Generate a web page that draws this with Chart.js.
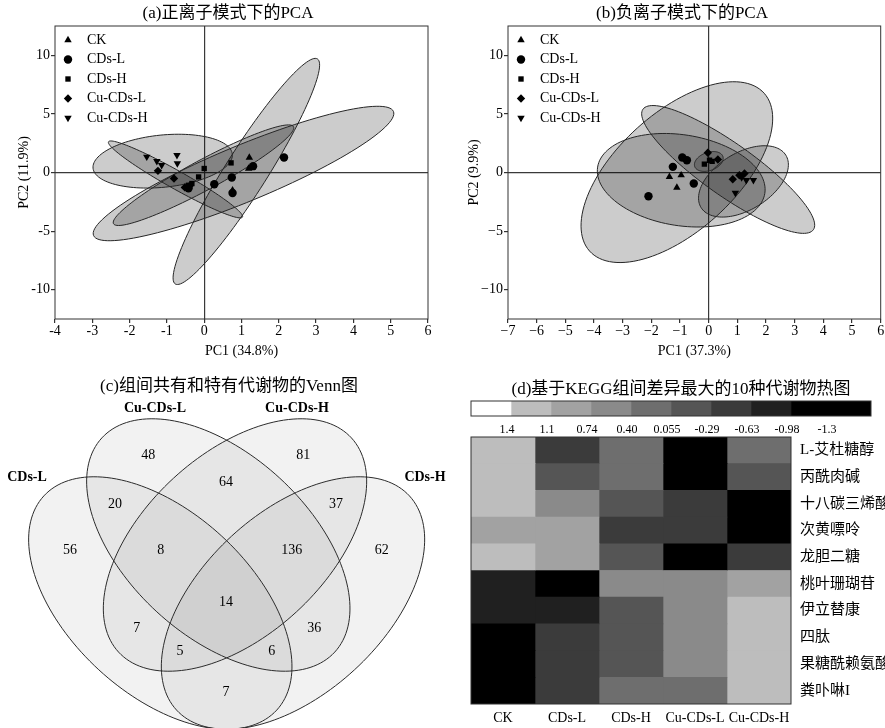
<!DOCTYPE html>
<html>
<head>
<meta charset="utf-8">
<script src="https://cdn.jsdelivr.net/npm/chart.js@4.4.0/dist/chart.umd.min.js"></script>
<style>
  body { margin: 0; background: #fff; width: 885px; height: 728px; position: relative; overflow: hidden; }
  canvas { position: absolute; }
</style>
</head>
<body>
<canvas id="cA" width="442" height="362" style="left:0;top:0"></canvas>
<canvas id="cB" width="443" height="362" style="left:442px;top:0"></canvas>
<canvas id="cC" width="460" height="358" style="left:0;top:370px"></canvas>
<canvas id="cK" width="425" height="65" style="left:460px;top:375px"></canvas>
<canvas id="cH" width="425" height="296" style="left:460px;top:432px"></canvas>
<script>
/* ---------- data ---------- */
const groupNames = ['CK', 'CDs-L', 'CDs-H', 'Cu-CDs-L', 'Cu-CDs-H'];

// (a) PCA scores, positive ion mode  [PC1, PC2]
const posCK     = [[1.21, 1.28], [1.19, 0.34], [0.76, -1.52]];
const posCDsL   = [[2.14, 1.28], [1.31, 0.54], [0.74, -0.43], [0.27, -1.0], [0.76, -1.75], [-0.42, -1.35]];
const posCDsH   = [[0.72, 0.82], [0.0, 0.34], [-0.15, -0.38], [-0.33, -0.94], [-0.42, -1.09]];
const posCuCDsL = [[-1.24, 0.14], [-0.81, -0.51], [-0.52, -1.27], [-0.4, -1.2]];
const posCuCDsH = [[-1.54, 1.34], [-1.27, 0.97], [-1.14, 0.63], [-0.73, 1.48], [-0.72, 0.77]];
// confidence ellipses: centre x, centre y, semi-axis 1 (dx, dy), semi-axis 2 (dx, dy)
const posEllipses = [
  [-1.113, 0.968, 1.867, 0.6, 0.07, -2.217],
  [1.054, -0.086, 4.02, 5.29, 0.285, -2.22],
  [1.13, 0.09, 1.906, 9.6, 0.475, -0.966],
  [-0.019, -0.23, 2.413, 4.14, 0.19, -1.13],
  [-0.769, -0.59, 1.796, -3.213, -0.118, -0.673]
];

// (b) PCA scores, negative ion mode
const negCK     = [[-1.37, -0.37], [-0.96, -0.23], [-1.11, -1.29]];
const negCDsL   = [[-1.25, 0.48], [-0.92, 1.28], [-0.76, 1.05], [-2.1, -2.03], [-0.52, -0.94]];
const negCDsH   = [[-0.15, 0.71], [0.03, 1.05], [0.12, 0.95]];
const negCuCDsL = [[-0.03, 1.68], [0.32, 1.11], [0.84, -0.57], [1.07, -0.23], [1.25, -0.09]];
const negCuCDsH = [[0.93, -1.75], [1.31, -0.66], [1.56, -0.66], [1.15, -0.42]];
const negEllipses = [
  [-1.11, 0.03, 3.046, 6.73, 1.377, -3.77],
  [0.68, 0.26, 2.972, -5.14, -0.521, -1.823],
  [-0.958, -0.66, 2.916, -1.12, -0.245, -3.83],
  [1.213, -0.76, 1.48, 2.23, 0.515, -2.07],
  [0.004, 0.94, 0.491, 0.43, 0.104, -0.73]
];

const pcaYTicks = [-10, -5, 0, 5, 10];

// (c) Venn counts
const vennSets   = ['CDs-L', 'Cu-CDs-L', 'Cu-CDs-H', 'CDs-H'];
const vennCounts = [48, 81, 64, 20, 37, 56, 8, 136, 62, 14, 7, 36, 5, 6, 7];

// (d) heatmap
const metabolites = ['L-艾杜糖醇', '丙酰肉碱', '十八碳三烯酸', '次黄嘌呤', '龙胆二糖',
                     '桃叶珊瑚苷', '伊立替康', '四肽', '果糖酰赖氨酸', '粪卟啉I'];
const heatValues = [
  [1.25, -0.46, 0.23, -1.4, 0.23],
  [1.25, -0.12, 0.23, -1.4, -0.12],
  [1.25, 0.57, -0.12, -0.46, -1.4],
  [0.9, 0.9, -0.46, -0.46, -1.4],
  [1.25, 0.9, -0.12, -1.4, -0.46],
  [-0.8, -1.2, 0.57, 0.57, 0.9],
  [-0.8, -0.8, -0.12, 0.57, 1.25],
  [-1.4, -0.46, -0.12, 0.57, 1.25],
  [-1.4, -0.46, -0.12, 0.57, 1.25],
  [-1.4, -0.46, 0.23, 0.23, 1.25]
];
const cbBreaks = [1.4, 1.1, 0.74, 0.40, 0.055, -0.29, -0.63, -0.98, -1.3];
const cbLabels = ['1.4', '1.1', '0.74', '0.40', '0.055', '-0.29', '-0.63', '-0.98', '-1.3'];

/* ---------- look ---------- */
const FONT = '"Liberation Serif", "Noto Sans CJK SC", serif';
Chart.defaults.font.family = FONT;
Chart.defaults.color = '#000';

const cbColors = ['#ffffff', '#bdbdbd', '#a2a2a2', '#8a8a8a', '#6e6e6e',
                  '#555555', '#3b3b3b', '#202020', '#000000', '#000000'];
const colorFor = v => cbColors[cbBreaks.filter(b => b > v).length];

const markers = [
  { pointStyle: 'triangle', rotation: 0, r: 4.3 },
  { pointStyle: 'circle', rotation: 0, r: 4.2 },
  { pointStyle: 'rect', rotation: 0, r: 3.8 },
  { pointStyle: 'rectRot', rotation: 0, r: 4.2 },
  { pointStyle: 'triangle', rotation: 180, r: 4.3 }
];

function makeTitle(text, x, y) {
  return {
    id: 'panelTitle',
    afterDraw(chart) {
      const ctx = chart.ctx;
      ctx.save();
      ctx.font = '17px ' + FONT;
      ctx.fillStyle = '#000';
      ctx.textAlign = 'center';
      ctx.textBaseline = 'middle';
      ctx.fillText(text, x, y);
      ctx.restore();
    }
  };
}

const framePlugin = {
  id: 'frame',
  afterDatasetsDraw(chart) {
    const { ctx, chartArea: ca } = chart;
    ctx.save();
    ctx.strokeStyle = '#333';
    ctx.lineWidth = 1;
    ctx.strokeRect(ca.left, ca.top, ca.right - ca.left, ca.bottom - ca.top);
    ctx.restore();
  }
};

// conjugate-axis ellipse traced through the chart's scales
function ellipsePath(chart, e) {
  const { ctx, scales: { x, y } } = chart;
  ctx.beginPath();
  for (let k = 0; k <= 120; k++) {
    const t = k / 120 * Math.PI * 2;
    const dx = e[0] + e[2] * Math.cos(t) + e[4] * Math.sin(t);
    const dy = e[1] + e[3] * Math.cos(t) + e[5] * Math.sin(t);
    const px = x.getPixelForValue(dx), py = y.getPixelForValue(dy);
    if (k === 0) ctx.moveTo(px, py); else ctx.lineTo(px, py);
  }
  ctx.closePath();
}

function makeEllipses(list, fill) {
  return {
    id: 'ellipses',
    beforeDatasetsDraw(chart) {
      const { ctx, chartArea: ca } = chart;
      ctx.save();
      ctx.beginPath();
      ctx.rect(ca.left, ca.top, ca.right - ca.left, ca.bottom - ca.top);
      ctx.clip();
      list.forEach(e => { ellipsePath(chart, e); ctx.fillStyle = fill; ctx.fill(); });
      list.forEach(e => { ellipsePath(chart, e); ctx.strokeStyle = '#262626'; ctx.lineWidth = 1; ctx.stroke(); });
      ctx.restore();
    }
  };
}

const legendPlugin = {
  id: 'pcaLegend',
  afterDatasetsDraw(chart) {
    const { ctx, chartArea: ca } = chart;
    chart.data.datasets.forEach((ds, i) => {
      const y = ca.top + 14 + i * 19.5;
      ctx.save();
      ctx.fillStyle = '#000';
      ctx.strokeStyle = '#000';
      Chart.helpers.drawPoint(ctx, { pointStyle: ds.pointStyle, radius: ds.pointRadius, rotation: ds.rotation, borderWidth: 0 }, ca.left + 13, y);
      ctx.font = '14px ' + FONT;
      ctx.textAlign = 'left';
      ctx.textBaseline = 'middle';
      ctx.fillText(ds.label, ca.left + 32, y);
      ctx.restore();
    });
  }
};

/* ---------- (a) & (b) PCA ---------- */
function pcaChart(id, cfg) {
  const datasets = cfg.series.map((pts, i) => ({
    label: groupNames[i],
    data: pts.map(p => ({ x: p[0], y: p[1] })),
    pointStyle: markers[i].pointStyle,
    rotation: markers[i].rotation,
    pointRadius: markers[i].r,
    backgroundColor: '#000',
    borderColor: '#000',
    borderWidth: 0
  }));
  const fmt = v => (v < 0 ? cfg.minus + Math.abs(v) : String(v));
  const gridColor = c => (c.tick && c.tick.value === 0 ? '#3a3a3a' : 'rgba(0,0,0,0)');
  return new Chart(document.getElementById(id), {
    type: 'scatter',
    data: { datasets },
    options: {
      responsive: false,
      animation: false,
      layout: { padding: { left: 0, right: cfg.padRight, top: 26, bottom: 0 } },
      plugins: { legend: { display: false }, tooltip: { enabled: false } },
      scales: {
        x: {
          type: 'linear', min: cfg.xMin, max: cfg.xMax,
          ticks: { stepSize: 1, font: { size: 14 }, color: '#000', padding: 0, maxRotation: 0, callback: fmt },
          grid: { color: gridColor, tickColor: '#333', tickLength: 4, lineWidth: 1.2 },
          border: { display: false },
          title: { display: true, text: cfg.xTitle, font: { size: 14 }, color: '#000', padding: { top: 0, bottom: 2 } },
          afterFit: s => { s.height = 43; }
        },
        y: {
          type: 'linear', min: -12.5, max: 12.5,
          afterBuildTicks: s => { s.ticks = pcaYTicks.map(v => ({ value: v })); },
          ticks: { font: { size: 14 }, color: '#000', padding: 1, callback: fmt },
          grid: { color: gridColor, tickColor: '#333', tickLength: 4, lineWidth: 1.2 },
          border: { display: false },
          title: { display: true, text: cfg.yTitle, font: { size: 14 }, color: '#000', padding: { top: cfg.yTitlePad, bottom: 0 } },
          afterFit: s => { s.width = cfg.yWidth; }
        }
      }
    },
    plugins: [makeEllipses(cfg.ellipses, 'rgba(0,0,0,0.2)'), framePlugin, legendPlugin,
              makeTitle(cfg.title, cfg.titleX, 14)]
  });
}

pcaChart('cA', {
  series: [posCK, posCDsL, posCDsH, posCuCDsL, posCuCDsH],
  ellipses: posEllipses,
  xMin: -4, xMax: 6, minus: '-',
  xTitle: 'PC1 (34.8%)', yTitle: 'PC2 (11.9%)',
  yWidth: 55, yTitlePad: 15.5, padRight: 14,
  title: '(a)正离子模式下的PCA', titleX: 228
});

pcaChart('cB', {
  series: [negCK, negCDsL, negCDsH, negCuCDsL, negCuCDsH],
  ellipses: negEllipses,
  xMin: -7, xMax: 6, minus: '\u2212',
  xTitle: 'PC1 (37.3%)', yTitle: 'PC2 (9.9%)',
  yWidth: 66, yTitlePad: 23.5, padRight: 4,
  title: '(b)负离子模式下的PCA', titleX: 240
});

/* ---------- (c) Venn ---------- */
// layout of the four ellipses (canvas-like units): cx, cy, semi-major, semi-minor, angle
const vennShapes = [
  [160.3, 233, 158.2, 90.8, 42.6],
  [218.3, 175, 158.2, 90.8, 42.6],
  [235.0, 175, 158.2, 90.8, -42.6],
  [293.0, 233, 158.2, 90.8, -42.6]
];
const vennCountPos = [
  [148.3, 85.7], [303.3, 85.7], [226, 112.7], [115, 134], [336, 134],
  [70, 180.7], [160.7, 180.7], [291.7, 180.7], [381.7, 180.7], [226, 232.3],
  [136.7, 258.3], [314.3, 258.3], [180, 281.7], [271.7, 281.7], [226, 322.7]
];
const vennSetPos = [[27, 107], [155, 38], [297, 38], [425, 107]];

const vennPlugin = {
  id: 'venn',
  beforeDatasetsDraw(chart) {
    const { ctx, scales: { x, y } } = chart;
    const path = s => {
      const a = s[4] * Math.PI / 180;
      ctx.beginPath();
      for (let k = 0; k <= 160; k++) {
        const t = k / 160 * Math.PI * 2;
        const dx = s[0] + s[2] * Math.cos(t) * Math.cos(a) - s[3] * Math.sin(t) * Math.sin(a);
        const dy = s[1] + s[2] * Math.cos(t) * Math.sin(a) + s[3] * Math.sin(t) * Math.cos(a);
        const px = x.getPixelForValue(dx), py = y.getPixelForValue(dy);
        if (k === 0) ctx.moveTo(px, py); else ctx.lineTo(px, py);
      }
      ctx.closePath();
    };
    ctx.save();
    vennShapes.forEach(s => { path(s); ctx.fillStyle = 'rgba(0,0,0,0.05)'; ctx.fill(); });
    vennShapes.forEach(s => { path(s); ctx.strokeStyle = '#2b2b2b'; ctx.lineWidth = 1; ctx.stroke(); });
    ctx.restore();
  },
  afterDatasetsDraw(chart) {
    const ctx = chart.ctx;
    ctx.save();
    ctx.fillStyle = '#000';
    ctx.textAlign = 'center';
    ctx.textBaseline = 'middle';
    ctx.font = '14px ' + FONT;
    chart.getDatasetMeta(0).data.forEach((pt, i) => ctx.fillText(String(vennCounts[i]), pt.x, pt.y));
    ctx.font = 'bold 14px ' + FONT;
    chart.getDatasetMeta(1).data.forEach((pt, i) => ctx.fillText(vennSets[i], pt.x, pt.y));
    ctx.restore();
  }
};

new Chart(document.getElementById('cC'), {
  type: 'scatter',
  data: {
    datasets: [
      { data: vennCountPos.map(p => ({ x: p[0], y: p[1] })), pointRadius: 0 },
      { data: vennSetPos.map(p => ({ x: p[0], y: p[1] })), pointRadius: 0 }
    ]
  },
  options: {
    responsive: false,
    animation: false,
    layout: { padding: 0 },
    plugins: { legend: { display: false }, tooltip: { enabled: false } },
    scales: {
      x: { display: false, min: 0, max: 460 },
      y: { display: false, min: 0, max: 358, reverse: true }
    }
  },
  plugins: [vennPlugin, makeTitle('(c)组间共有和特有代谢物的Venn图', 229, 17)]
});

/* ---------- (d) colour key ---------- */
new Chart(document.getElementById('cK'), {
  type: 'bar',
  data: {
    labels: [''],
    datasets: cbColors.map((c, i) => ({
      data: [[i, i + 1]], backgroundColor: c, borderWidth: 0,
      grouped: false, categoryPercentage: 1, barPercentage: 1
    }))
  },
  options: {
    indexAxis: 'y',
    responsive: false,
    animation: false,
    layout: { padding: { left: 11, right: 14, top: 26, bottom: 0 } },
    plugins: { legend: { display: false }, tooltip: { enabled: false } },
    scales: {
      x: {
        type: 'linear', min: 0, max: 10,
        afterBuildTicks: s => { s.ticks = cbLabels.map((l, i) => ({ value: i + 1 })); },
        ticks: { callback: (v, i) => cbLabels[i], font: { size: 12 }, color: '#000', padding: 7, labelOffset: -4, maxRotation: 0, autoSkip: false },
        grid: { display: false, drawTicks: false },
        border: { display: false },
        afterFit: s => { s.height = 24; }
      },
      y: { display: false }
    }
  },
  plugins: [framePlugin, makeTitle('(d)基于KEGG组间差异最大的10种代谢物热图', 221, 15)]
});

/* ---------- (d) heatmap ---------- */
new Chart(document.getElementById('cH'), {
  type: 'bar',
  data: {
    labels: metabolites,
    datasets: groupNames.map((g, c) => ({
      label: g,
      data: metabolites.map(() => [c, c + 1]),
      backgroundColor: heatValues.map(row => colorFor(row[c])),
      borderWidth: 0,
      grouped: false, categoryPercentage: 1, barPercentage: 1
    }))
  },
  options: {
    indexAxis: 'y',
    responsive: false,
    animation: false,
    layout: { padding: { left: 11, right: 0, top: 5, bottom: 0 } },
    plugins: { legend: { display: false }, tooltip: { enabled: false } },
    scales: {
      x: {
        type: 'linear', min: 0, max: 5,
        afterBuildTicks: s => { s.ticks = groupNames.map((g, i) => ({ value: i + 0.5 })); },
        ticks: { callback: (v, i) => groupNames[i], font: { size: 14 }, color: '#000', padding: 6, maxRotation: 0, minRotation: 0, autoSkip: false },
        grid: { display: false, drawTicks: false },
        border: { display: false },
        afterFit: s => { s.height = 24; s.paddingLeft = 0; s.paddingRight = 0; }
      },
      y: {
        type: 'category', position: 'right',
        ticks: { font: { size: 15 }, color: '#000', padding: 9, autoSkip: false },
        grid: { display: false, drawTicks: false },
        border: { display: false },
        afterFit: s => { s.width = 94; s.paddingTop = 0; s.paddingBottom = 0; }
      }
    }
  },
  plugins: [framePlugin]
});
</script>
</body>
</html>
